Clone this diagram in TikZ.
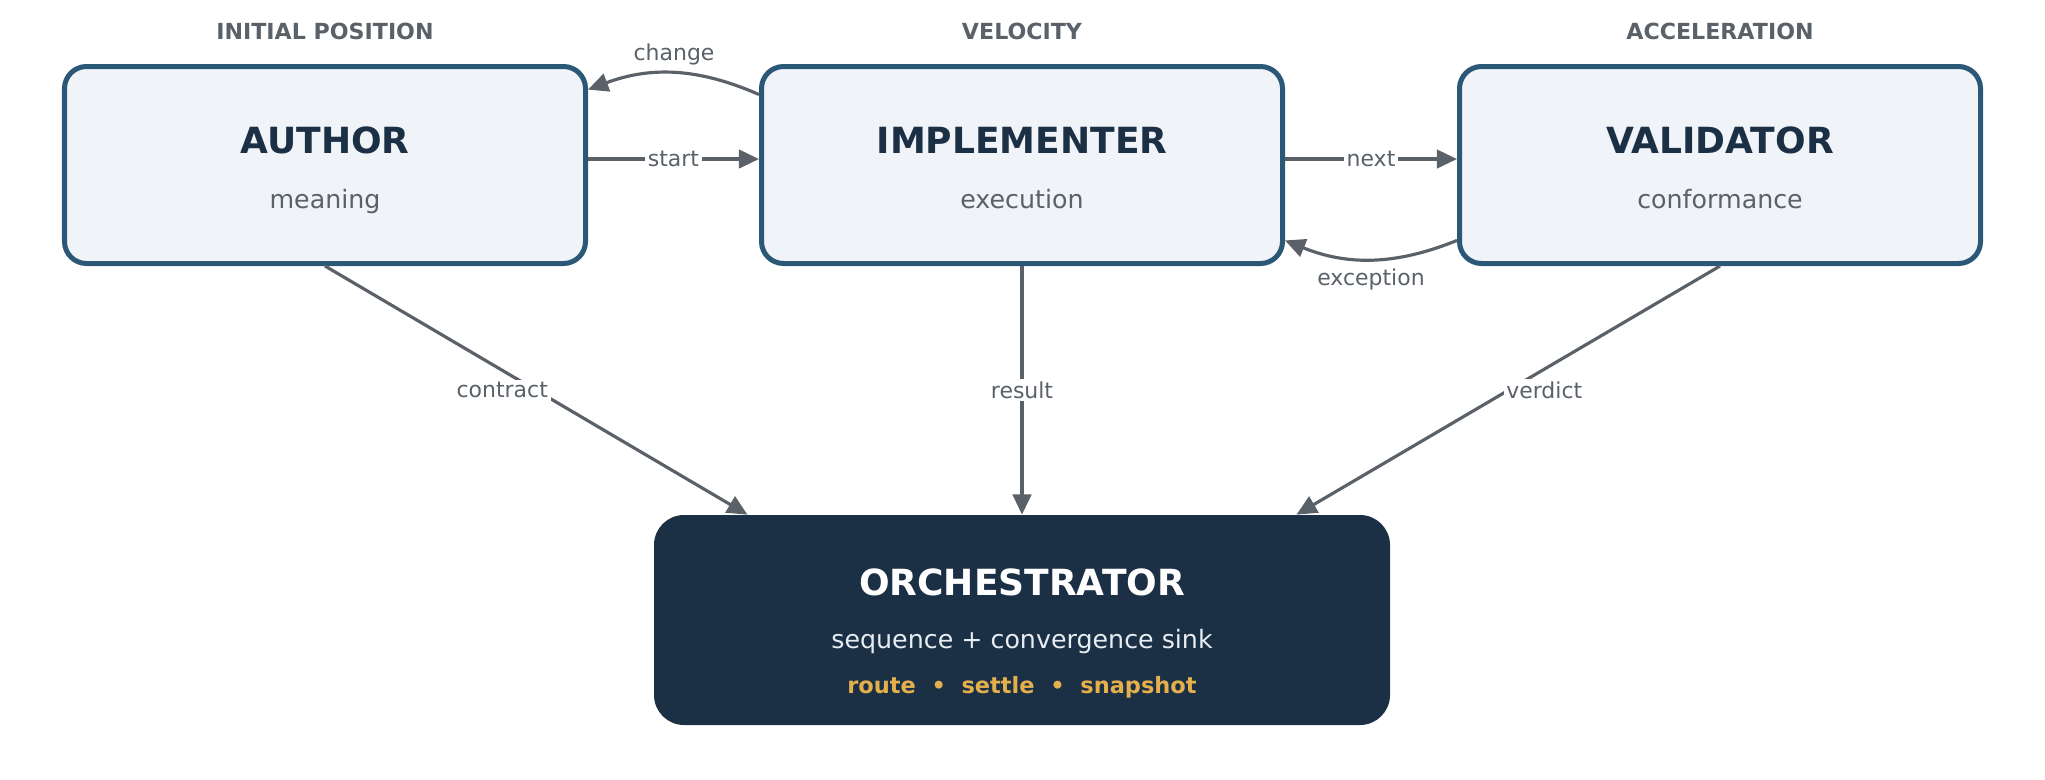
\documentclass[tikz,border=0pt]{standalone}
\usepackage{fontspec}
\setmainfont{DejaVu Sans}
\usetikzlibrary{positioning,arrows.meta}
\definecolor{navy}{HTML}{1B2F45}
\definecolor{rim}{HTML}{2C5878}
\definecolor{paper}{HTML}{F0F4F8}
\definecolor{ink}{HTML}{5B6169}
\definecolor{gold}{HTML}{E3B04B}
\definecolor{pale}{HTML}{E6EDF3}

\begin{document}
\begin{tikzpicture}[
          every node/.style={font=\fontsize{12.5}{15}\selectfont},
          role/.style={rectangle,draw=rim,line width=2.85pt,fill=paper,rounded corners=0.44cm,
                       minimum width=10.42cm,minimum height=3.94cm},
          sink/.style={rectangle,fill=navy,rounded corners=0.6cm,minimum width=14.72cm,minimum height=4.2cm},
          head/.style={anchor=base,text=ink,font=\fontsize{12.6}{15}\selectfont\bfseries},
          ttl/.style={anchor=base,text=navy,font=\fontsize{20.5}{24}\selectfont\bfseries},
          sub/.style={anchor=base,text=ink,font=\fontsize{14.4}{17}\selectfont},
          lbl/.style={fill=white,text=ink,inner sep=1.5pt},
          flow/.style={ink,line width=1.8pt,-{Triangle[length=11.5pt,width=10.5pt]}},
        ]
        \useasboundingbox (0,0) rectangle (40.9,-15.58);
        % column headings
        \node[head] (h-author) at (6.5,-0.79) {INITIAL POSITION};
        \node[head] (h-impl)   at (20.44,-0.79) {VELOCITY};
        \node[head] (h-valid)  at (34.4,-0.79) {ACCELERATION};
        % the three roles
        \node[role] (author) at (6.5,-3.3) {};
        \node[role] (impl)   at (20.44,-3.3) {};
        \node[role] (valid)  at (34.4,-3.3) {};
        \node[ttl] (author-t) at (6.5,-3.06) {AUTHOR};
        \node[sub] (author-s) at (6.5,-4.16) {meaning};
        \node[ttl] (impl-t) at (20.44,-3.06) {IMPLEMENTER};
        \node[sub] (impl-s) at (20.44,-4.16) {execution};
        \node[ttl] (valid-t) at (34.4,-3.06) {VALIDATOR};
        \node[sub] (valid-s) at (34.4,-4.16) {conformance};
        % sink
        \node[sink] (orch) at (20.44,-12.4) {};
        \node[ttl,text=white] (orch-t) at (20.44,-11.9) {ORCHESTRATOR};
        \node[sub,text=pale] (orch-s) at (20.44,-12.96) {sequence + convergence sink};
        \node[anchor=base,text=gold,font=\fontsize{12.8}{15}\selectfont\bfseries] (orch-v) at (20.44,-13.86)
          {route~~•~~settle~~•~~snapshot};
        % edges
        \draw[flow] ([yshift=3.4pt]author.east) -- node[lbl] {start} ([yshift=3.4pt]impl.west);
        \draw[flow] ([yshift=3.4pt]impl.east) -- node[lbl] {next} ([yshift=3.4pt]valid.west);
        \draw[flow] (impl.165) to[bend right=22] node[lbl,above=2pt] {change} (author.16);
        \draw[flow] (valid.196) to[bend left=22] node[lbl,below=3pt] {exception} (impl.344);
        \draw[flow] (author.south) -- node[lbl,xshift=-0.68cm] {contract} (orch.159);
        \draw[flow] (impl.south) -- node[lbl] {result} (orch.north);
        \draw[flow] (valid.south) -- node[lbl,xshift=0.72cm] {verdict} (orch.21);
      \end{tikzpicture}
\end{document}
